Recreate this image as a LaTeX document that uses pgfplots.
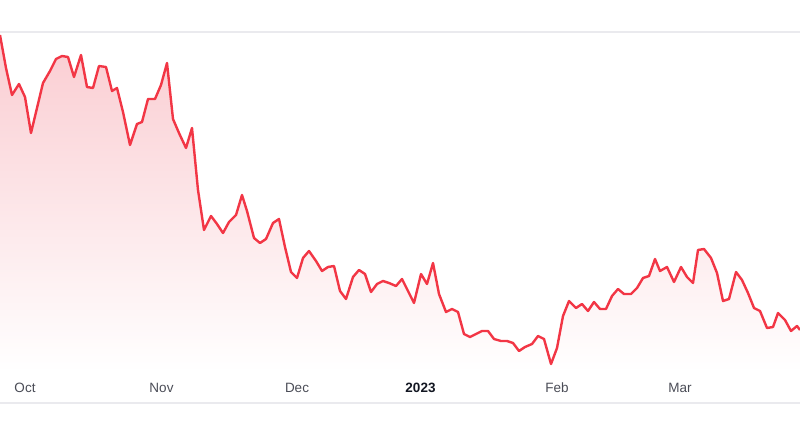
\documentclass[border=0pt]{standalone}
\usepackage{pgfplots}
\pgfplotsset{compat=1.18}
\usepackage{pgfplotstable}
\usepackage{fontspec}
\setmainfont{Liberation Sans}

\definecolor{linered}{RGB}{242,54,69}
\definecolor{fillred}{RGB}{250,204,209}
\definecolor{gridgray}{RGB}{234,234,238}
\definecolor{labelgray}{RGB}{74,76,86}
\definecolor{labeldark}{RGB}{19,23,34}

% x: position along the time axis, v: price level (arbitrary units)
\pgfplotstableread{
x v
0 337
6 304
12 277
19 288
25 275
31 239
37 264
43 289
50 301
56 313
62 316
68 315
74 295
81 317
87 285
93 284
99 306
106 305
112 281
117 284
123 260
130 227
137 248
142 250
148 273
155 273
161 287
167 309
173 253
179 239
186 224
192 244
198 182
204 142
211 156
217 148
223 139
229 150
236 157
242 177
247 161
254 134
260 129
266 133
273 149
279 153
285 125
291 100
297 94
303 114
309 121
316 111
322 101
328 105
334 106
340 81
346 73
353 95
359 102
365 98
371 80
377 88
383 91
389 89
396 86
402 93
408 81
414 69
421 98
427 88
433 109
439 78
446 60
452 63
458 60
464 38
470 35
476 38
482 41
488 41
494 33
501 31
507 31
513 29
519 21
525 25
532 28
538 36
544 33
551 8
557 24
563 56
569 71
576 64
582 68
588 61
594 70
600 63
606 63
612 76
618 83
624 78
631 78
637 84
643 94
649 96
655 113
660 101
667 105
674 90
681 105
687 95
693 89
698 122
704 123
711 114
717 99
723 71
729 73
736 100
742 92
748 79
754 64
760 61
767 44
773 45
778 59
785 52
791 41
797 46
800 42
}\price

\begin{document}
\begin{tikzpicture}
  \begin{axis}[
    at={(0,0)}, anchor=south west,
    width=800pt, height=445pt,
    scale only axis,
    xmin=0, xmax=800,
    ymin=-73, ymax=372,
    axis line style={draw=none},
    major tick length=0pt,
    ytick=\empty,
    xtick={25,161.5,297,420.5,557,680},
    xticklabels={Oct,Nov,Dec,{\color{labeldark}\textbf{2023}},Feb,Mar},
    xticklabel style={anchor=center, yshift=57pt, font=\fontsize{13.5}{16}\selectfont, text=labelgray},
  ]
    % top grid line and bottom border
    \draw[gridgray, line width=1.5pt] (axis cs:0,340) -- (axis cs:800,340);
    \draw[gridgray, line width=1.5pt] (axis cs:0,-31) -- (axis cs:800,-31);
    \addplot[draw=none, top color=fillred, bottom color=white] table[x=x, y=v] {\price} \closedcycle;
    \addplot[color=linered, line width=2.4pt, line join=round, mark=none] table[x=x, y=v] {\price};
  \end{axis}
  \pgfresetboundingbox
  \useasboundingbox (0,0) rectangle (800pt,445pt);
\end{tikzpicture}
\end{document}
